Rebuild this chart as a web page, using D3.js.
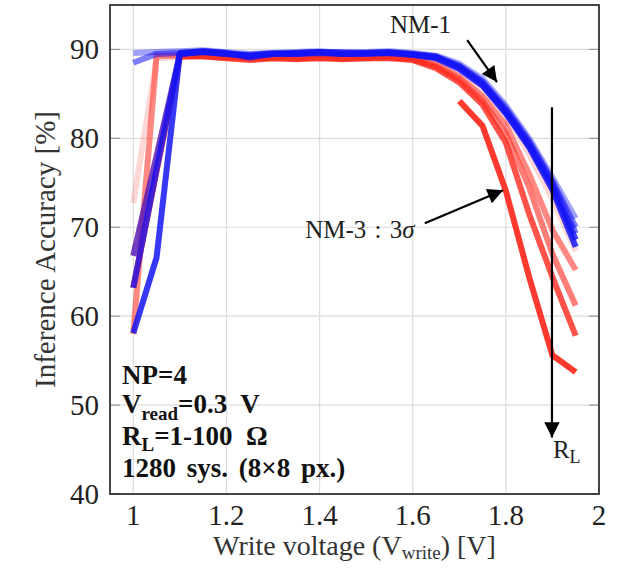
<!DOCTYPE html>
<html><head><meta charset="utf-8">
<script src="https://cdn.jsdelivr.net/npm/d3@7"></script>
<style>body{margin:0;background:#fff}</style>
</head><body><svg id="c" width="628" height="568"></svg>
<script>
// ---- data ----
const voltages = [1.00,1.05,1.10,1.15,1.20,1.25,1.30,1.35,1.40,1.45,1.50,1.55,1.60,1.65,1.70,1.75,1.80,1.85,1.90,1.95];
const xTicks = [1,1.2,1.4,1.6,1.8,2];
const xTickLabels = ["1","1.2","1.4","1.6","1.8","2"];
const yTicks = [40,50,60,70,80,90];
const yTickLabels = ["40","50","60","70","80","90"];

// NM-3:3sigma (red), R_L from small to large
const nm3_rl1 = [72.7,89.0,89.2,89.3,89.2,89.0,89.1,89.1,89.2,89.1,89.1,89.2,89.0,88.5,87.3,85.4,82.6,78.2,73.2,67.3];
const nm3_rl2 = [58.0,89.3,89.3,89.3,89.1,89.0,89.1,89.0,89.1,89.0,89.1,89.1,88.9,88.3,86.9,84.7,81.5,76.0,69.7,65.2];
const nm3_rl3 = [66.8,78.0,89.2,89.3,89.1,89.0,89.0,89.0,89.1,89.0,89.0,89.1,88.9,88.1,86.6,84.2,80.5,74.5,67.0,61.2];
const nm3_rl4 = [63.2,76.3,89.2,89.2,89.0,88.8,89.0,88.9,89.0,88.9,89.0,89.0,88.8,87.9,86.3,83.8,79.5,71.5,64.4,57.8];
const nm3_rl5 = [null,null,null,null,null,null,null,null,null,null,null,null,null,null,84.2,81.4,74.1,64.4,55.6,53.7];
// NM-1 (blue)
const nm1_rl1 = [89.6,89.7,89.8,89.9,89.7,89.5,89.6,89.7,89.8,89.6,89.7,89.8,89.6,89.3,88.4,86.7,83.7,80.0,75.6,71.0];
const nm1_rl2 = [88.5,89.5,89.6,89.8,89.6,89.3,89.5,89.6,89.7,89.7,89.6,89.7,89.5,89.2,88.2,86.4,83.4,79.7,75.2,70.0];
const nm1_rl3 = [66.8,78.0,89.5,89.7,89.5,89.4,89.6,89.5,89.7,89.6,89.6,89.7,89.5,89.2,88.1,86.3,83.2,79.5,75.0,69.3];
const nm1_rl4 = [63.2,76.5,89.6,89.8,89.6,89.1,89.5,89.6,89.7,89.5,89.6,89.6,89.4,89.1,88.0,86.1,83.0,79.2,74.6,68.6];
const nm1_rl5 = [58.1,66.6,89.5,89.7,89.5,89.3,89.5,89.5,89.6,89.5,89.5,89.6,89.4,89.0,87.8,85.9,82.8,79.0,74.2,67.8];

const redSeries = [nm3_rl1,nm3_rl2,nm3_rl3,nm3_rl4,nm3_rl5];
const blueSeries = [nm1_rl1,nm1_rl2,nm1_rl3,nm1_rl4,nm1_rl5];

// ---- drawing ----
const W = 628, H = 568;
const m = {left:110, right:29, top:5, bottom:74};
const svg = d3.select("#c");
const serif = "'Liberation Serif','DejaVu Serif',serif";
const x = d3.scaleLinear().domain([0.95,2.0]).range([m.left, W-m.right]);
const y = d3.scaleLinear().domain([40,95]).range([H-m.bottom, m.top]);

// grid
const g = svg.append("g");
g.selectAll(".vg").data(xTicks).join("line")
  .attr("x1",d=>x(d)).attr("x2",d=>x(d)).attr("y1",y(40)).attr("y2",y(95))
  .attr("stroke","#dcdcdc").attr("stroke-width",1.2);
g.selectAll(".hg").data(yTicks).join("line")
  .attr("x1",x(0.95)).attr("x2",x(2)).attr("y1",d=>y(d)).attr("y2",d=>y(d))
  .attr("stroke","#dcdcdc").attr("stroke-width",1.2);
// inward ticks left/right
g.selectAll(".tl").data(yTicks).join("line")
  .attr("x1",x(0.95)).attr("x2",x(0.95)+10).attr("y1",d=>y(d)).attr("y2",d=>y(d))
  .attr("stroke","#999").attr("stroke-width",1.2);
g.selectAll(".tr").data(yTicks).join("line")
  .attr("x1",x(2)-10).attr("x2",x(2)).attr("y1",d=>y(d)).attr("y2",d=>y(d))
  .attr("stroke","#999").attr("stroke-width",1.2);

const line = d3.line().defined(d=>d[1]!==null).x(d=>x(d[0])).y(d=>y(d[1]));
const redOp = [0.18,0.55,0.6,0.8,0.92];
const blueOp = [0.4,0.55,0.6,0.8,0.85];
const lines = svg.append("g").attr("fill","none").attr("stroke-width",6).attr("stroke-linejoin","round");
redSeries.forEach((s,i)=>{
  lines.append("path").datum(voltages.map((v,k)=>[v,s[k]]))
    .attr("d",line).attr("stroke","rgb(255,40,28)").attr("stroke-opacity",redOp[i]);
});
blueSeries.forEach((s,i)=>{
  lines.append("path").datum(voltages.map((v,k)=>[v,s[k]]))
    .attr("d",line).attr("stroke","rgb(20,20,245)").attr("stroke-opacity",blueOp[i]);
});

// frame
svg.append("rect").attr("x",x(0.95)).attr("y",y(95)).attr("width",x(2)-x(0.95)).attr("height",y(40)-y(95))
  .attr("fill","none").attr("stroke","#333").attr("stroke-width",1.8);

// tick labels
svg.selectAll(".xl").data(xTicks).join("text")
  .attr("x",d=>x(d)).attr("y",y(40)+31).attr("text-anchor","middle")
  .attr("font-family",serif).attr("font-size",29).attr("fill","#222")
  .text((d,i)=>xTickLabels[i]);
svg.selectAll(".yl").data(yTicks).join("text")
  .attr("x",x(0.95)-11).attr("y",d=>y(d)+10).attr("text-anchor","end")
  .attr("font-family",serif).attr("font-size",29).attr("fill","#222")
  .text((d,i)=>yTickLabels[i]);

// axis titles
const xt = svg.append("text").attr("x",(x(0.95)+x(2))/2).attr("y",555).attr("text-anchor","middle")
  .attr("font-family",serif).attr("font-size",28).attr("fill","#333");
xt.append("tspan").text("Write voltage (V");
xt.append("tspan").attr("font-size",19).attr("dy",4).text("write");
xt.append("tspan").attr("dy",-4).text(") [V]");
svg.append("text").attr("transform",`translate(55,${(y(40)+y(95))/2}) rotate(-90)`)
  .attr("text-anchor","middle").attr("font-family",serif).attr("font-size",29).attr("fill","#333")
  .text("Inference Accuracy [%]");

// parameter block
const bx = x(0.95)+12;
const blk = svg.append("g").attr("font-family",serif).attr("font-weight","bold").attr("font-size",27).attr("fill","#111");
blk.append("text").attr("x",bx).attr("y",384).text("NP=4");
const t2 = blk.append("text").attr("x",bx).attr("y",413);
t2.append("tspan").text("V");
t2.append("tspan").attr("font-size",19).attr("dy",7).text("read");
t2.append("tspan").attr("dy",-7).text("=0.3\u00a0 V");
const t3 = blk.append("text").attr("x",bx).attr("y",445);
t3.append("tspan").text("R");
t3.append("tspan").attr("font-size",19).attr("dy",6).text("L");
t3.append("tspan").attr("dy",-6).text("=1-100\u00a0 \u03a9");
blk.append("text").attr("x",bx).attr("y",477).attr("word-spacing",4).text("1280 sys. (8\u00d78 px.)");

// arrows
const defs = svg.append("defs");
defs.append("marker").attr("id","ah").attr("viewBox","0 0 10 10").attr("refX",10).attr("refY",5)
  .attr("markerWidth",9).attr("markerHeight",7).attr("markerUnits","strokeWidth").attr("orient","auto")
  .append("path").attr("d","M0,0 L10,5 L0,10 z").attr("fill","#000");
function arrow(x1,y1,x2,y2){
  svg.append("line").attr("x1",x(x1)).attr("y1",y(y1)).attr("x2",x(x2)).attr("y2",y(y2))
    .attr("stroke","#000").attr("stroke-width",2.2).attr("marker-end","url(#ah)");
}
arrow(1.717,91.06,1.781,86.33);
arrow(1.626,70.45,1.794,74.17);
arrow(1.899,83.5,1.899,46.35);

const ann = svg.append("g").attr("font-family",serif).attr("font-size",25).attr("fill","#222");
ann.append("text").attr("x",x(1.551)).attr("y",y(91.85)).text("NM-1");
const n3 = ann.append("text").attr("x",x(1.369)).attr("y",y(68.76));
n3.append("tspan").text("NM-3\u2004:\u20043");
n3.append("tspan").attr("font-style","italic").text("\u03c3");
const rl = ann.append("text").attr("x",x(1.901)).attr("y",y(44.0));
rl.append("tspan").text("R");
rl.append("tspan").attr("font-size",18).attr("dy",5).text("L");
</script></body></html>
